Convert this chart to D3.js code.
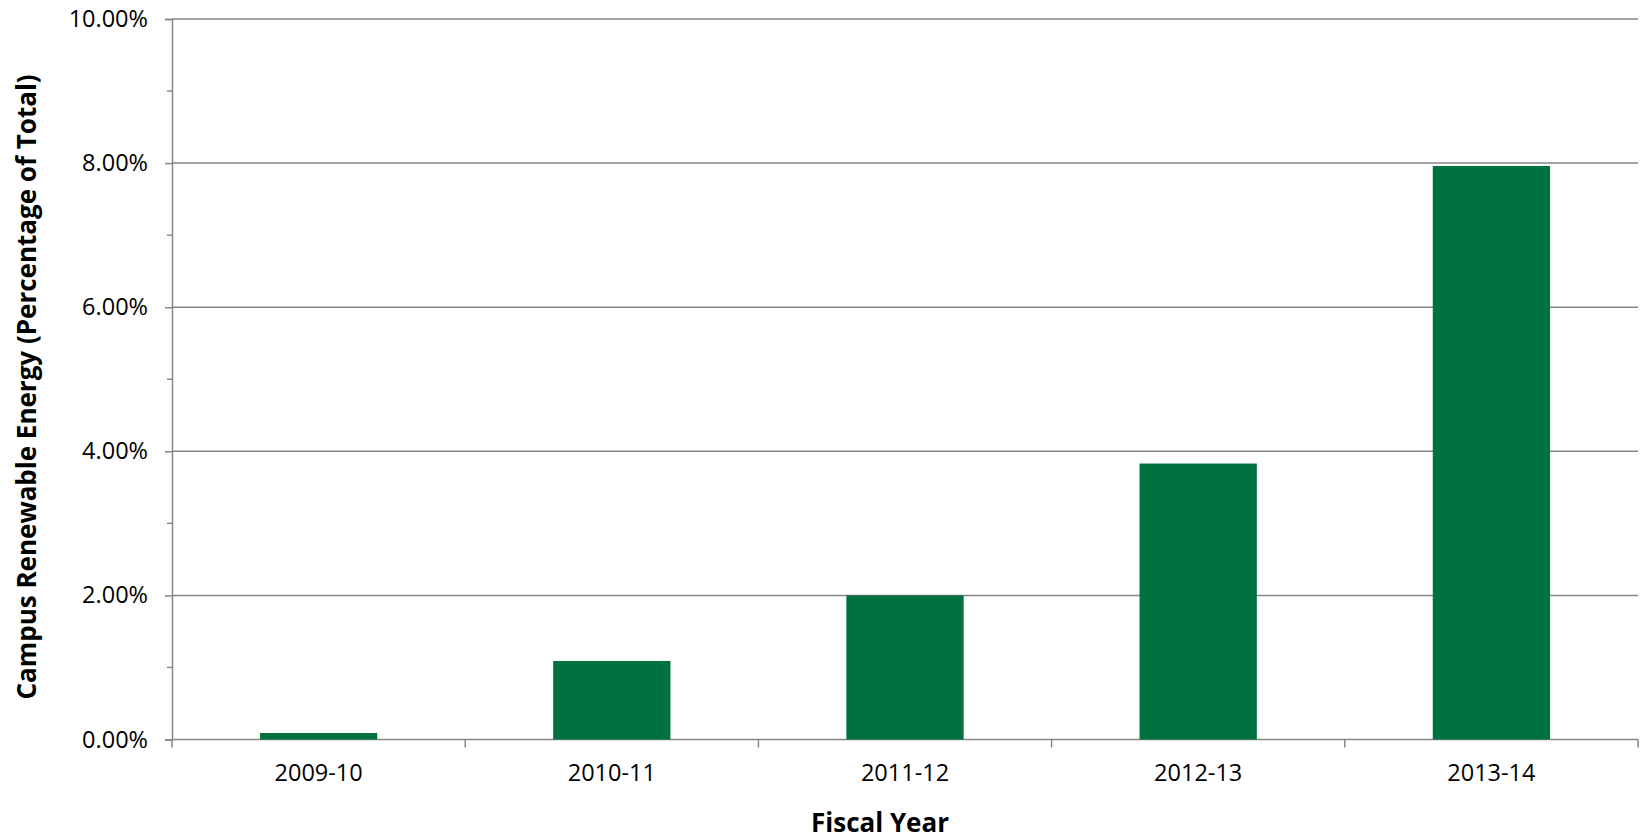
<!DOCTYPE html>
<html lang="en">
<head>
  <meta charset="utf-8">
  <title>Campus Renewable Energy</title>
  <script src="https://d3js.org/d3.v7.min.js"></script>
  <style>
  body { margin: 0; background: #fff; }
  .tick text { font-family: 'Open Sans', sans-serif; font-size: 23.5px; fill: #000; }
  .axis-title { font-family: 'Open Sans', sans-serif; font-weight: bold; font-size: 26px; fill: #000; }
  </style>
</head>
<body>
  <script>
  var years = ["2009-10", "2010-11", "2011-12", "2012-13", "2013-14"];
  var shares = [0.0009, 0.0109, 0.0200, 0.0383, 0.0796];   // fraction of total
  var yTicks = [0, 0.02, 0.04, 0.06, 0.08, 0.10];
  var yMinor = [0.01, 0.03, 0.05, 0.07, 0.09];

  var width = 1642, height = 840;
  var margin = {top: 19, right: 4, bottom: 100.5, left: 172};

  var svg = d3.select("body").append("svg")
    .attr("width", width)
    .attr("height", height);

  var x = d3.scaleBand()
    .domain(years)
    .range([margin.left, width - margin.right])
    .paddingInner(0.6)
    .paddingOuter(0.3);

  // category boundaries for x tick marks
  var xEdge = d3.scaleLinear()
    .domain([0, years.length])
    .range([margin.left, width - margin.right]);

  var y = d3.scaleLinear()
    .domain([0, 0.10])
    .range([height - margin.bottom, margin.top]);

  var grey = "#868686";

  // gridlines
  svg.append("g")
    .selectAll("line")
    .data(yTicks)
    .enter().append("line")
      .attr("x1", margin.left)
      .attr("x2", width - margin.right)
      .attr("y1", function(d){ return y(d); })
      .attr("y2", function(d){ return y(d); })
      .attr("stroke", grey)
      .attr("stroke-width", 1.5);

  // bars
  svg.append("g")
    .selectAll("rect")
    .data(shares)
    .enter().append("rect")
      .attr("x", function(d, i){ return x(years[i]); })
      .attr("width", x.bandwidth())
      .attr("y", function(d){ return y(d); })
      .attr("height", function(d){ return y(0) - y(d); })
      .attr("fill", "#007140");

  // y axis
  var yAxis = svg.append("g")
    .attr("transform", "translate(" + margin.left + ",0)")
    .call(d3.axisLeft(y).tickValues(yTicks).tickFormat(d3.format(".2%")).tickSize(7).tickPadding(17));
  yAxis.select(".domain").attr("stroke", grey).attr("stroke-width", 1.5);
  yAxis.selectAll(".tick line").attr("stroke", grey).attr("stroke-width", 1.5);

  svg.append("g")
    .selectAll("line")
    .data(yMinor)
    .enter().append("line")
      .attr("x1", margin.left - 5)
      .attr("x2", margin.left)
      .attr("y1", function(d){ return y(d); })
      .attr("y2", function(d){ return y(d); })
      .attr("stroke", grey)
      .attr("stroke-width", 1.5);

  // x axis
  var xAxis = svg.append("g")
    .attr("transform", "translate(0," + y(0) + ")")
    .call(d3.axisBottom(x).tickSize(0).tickPadding(25));
  xAxis.select(".domain").remove();

  svg.append("g")
    .selectAll("line")
    .data(d3.range(years.length + 1))
    .enter().append("line")
      .attr("x1", function(d){ return xEdge(d); })
      .attr("x2", function(d){ return xEdge(d); })
      .attr("y1", y(0))
      .attr("y2", y(0) + 8)
      .attr("stroke", grey)
      .attr("stroke-width", 1.5);

  // axis titles
  svg.append("text")
    .attr("class", "axis-title")
    .attr("text-anchor", "middle")
    .attr("x", 880)
    .attr("y", 832)
    .text("Fiscal Year");

  svg.append("text")
    .attr("class", "axis-title")
    .attr("text-anchor", "middle")
    .attr("transform", "translate(36,387) rotate(-90)")
    .text("Campus Renewable Energy (Percentage of Total)");
  </script>
</body>
</html>
